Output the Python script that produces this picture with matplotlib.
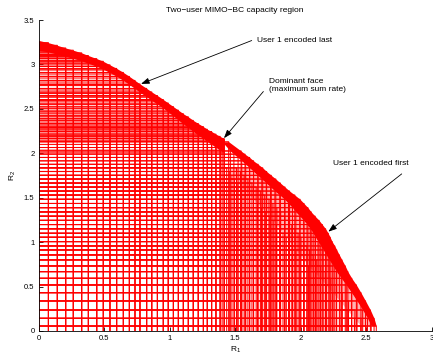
import matplotlib
matplotlib.use("Agg")
import matplotlib.pyplot as plt
from matplotlib.collections import LineCollection

plt.rcParams["font.family"] = ["Liberation Sans", "DejaVu Sans"]
plt.rcParams["mathtext.fontset"] = "custom"
plt.rcParams["mathtext.rm"] = "Liberation Sans"
plt.rcParams["mathtext.it"] = "Liberation Sans:italic"

RED = (1.0, 0.0, 0.0)

# --- user 1 encoded last: one column of corners per R1 level ---
last_r1 = [0.0, 0.074, 0.142, 0.206, 0.264, 0.328, 0.379, 0.443, 0.493, 0.544,
           0.595, 0.646, 0.692, 0.735, 0.773, 0.824, 0.863, 0.906, 0.951, 0.989,
           1.028, 1.066, 1.104, 1.142, 1.180, 1.218, 1.257, 1.287, 1.320, 1.353,
           1.385, 1.416]
last_r2_top = [3.27, 3.245, 3.215, 3.185, 3.16, 3.13, 3.10, 3.065, 3.035, 2.995,
               2.955, 2.91, 2.865, 2.82, 2.78, 2.73, 2.69, 2.65, 2.605, 2.565,
               2.525, 2.485, 2.445, 2.41, 2.37, 2.335, 2.30, 2.27, 2.245, 2.215,
               2.19, 2.165]
last_r2_mid = [3.252, 3.227, 3.197, 3.167, 3.142, 3.112, 3.082, 3.047, 3.017, 2.977,
               2.937, 2.892, 2.847, 2.802, 2.762, 2.712, 2.672, 2.632, 2.587, 2.547,
               2.507, 2.467, 2.427, 2.392, 2.352, 2.317, 2.282, 2.252, 2.227, 2.197,
               2.172, 2.147]
last_r2_low = [3.16, 3.14, 3.115, 3.09, 3.068, 3.04, 3.013, 2.978, 2.947, 2.907,
               2.866, 2.82, 2.774, 2.728, 2.687, 2.636, 2.595, 2.554, 2.508, 2.465,
               2.42, 2.375, 2.33, 2.29, 2.245, 2.205, 2.165, 2.13, 2.10, 2.065,
               2.035, 2.005]

# --- user 1 encoded first: one row of corners per R2 level ---
first_r2 = [0.056, 0.143, 0.236, 0.338, 0.431, 0.518, 0.593, 0.668, 0.732, 0.800,
            0.856, 0.912, 0.957, 1.006, 1.055, 1.100, 1.150, 1.198, 1.245, 1.292,
            1.340, 1.388, 1.435, 1.482, 1.530, 1.575, 1.620, 1.665, 1.710, 1.752,
            1.795, 1.836, 1.876, 1.915, 1.953, 1.990, 2.026, 2.130]
first_r1_outer = [2.577, 2.56, 2.532, 2.495, 2.46, 2.425, 2.39, 2.36, 2.34, 2.315,
                  2.295, 2.275, 2.26, 2.24, 2.225, 2.21, 2.19, 2.165, 2.14, 2.11,
                  2.08, 2.055, 2.025, 1.995, 1.955, 1.915, 1.88, 1.845, 1.81, 1.775,
                  1.74, 1.71, 1.675, 1.64, 1.61, 1.575, 1.545, 1.45]
first_r1_mid1 = [2.538, 2.51, 2.473, 2.43, 2.388, 2.348, 2.31, 2.273, 2.247, 2.218,
                 2.195, 2.172, 2.153, 2.132, 2.113, 2.095, 2.073, 2.048, 2.023, 1.993,
                 1.963, 1.937, 1.907, 1.877, 1.84, 1.803, 1.77, 1.737, 1.703, 1.672,
                 1.64, 1.61, 1.58, 1.55, 1.522, 1.49, 1.463, 1.40]
# deeper corners of the fan, only on the lower 32 rows
first_r1_mid2 = [2.499, 2.46, 2.414, 2.365, 2.317, 2.272, 2.23, 2.187, 2.153, 2.122,
                 2.095, 2.068, 2.047, 2.023, 2.002, 1.98, 1.957, 1.932, 1.907, 1.877,
                 1.847, 1.818, 1.788, 1.758, 1.725, 1.692, 1.66, 1.628, 1.597, 1.568,
                 1.54, 1.51]
first_r1_inner = [2.46, 2.41, 2.355, 2.30, 2.245, 2.195, 2.15, 2.10, 2.06, 2.025,
                  1.995, 1.965, 1.94, 1.915, 1.89, 1.865, 1.84, 1.815, 1.79, 1.76,
                  1.73, 1.70, 1.67, 1.64, 1.61, 1.58, 1.55, 1.52, 1.495, 1.475,
                  1.455, 1.435]

x_ticks = [0, 0.5, 1, 1.5, 2, 2.5, 3]
x_tick_labels = ["0", "0.5", "1", "1.5", "2", "2.5", "3"]
y_ticks = [0, 0.5, 1, 1.5, 2, 2.5, 3, 3.5]
y_tick_labels = ["0", "0.5", "1", "1.5", "2", "2.5", "3", "3.5"]


def rect_paths(r1s, r2s):
    # achievable region of one corner point: lines (0,R2)-(R1,R2)-(R1,0)
    return [[(0, b), (a, b), (a, 0)] for a, b in zip(r1s, r2s)]


paths = []
for r2s in (last_r2_top, last_r2_mid, last_r2_low):
    paths += rect_paths(last_r1, r2s)
for r1s in (first_r1_outer, first_r1_mid1, first_r1_mid2, first_r1_inner):
    paths += rect_paths(r1s, first_r2[:len(r1s)])

fig = plt.figure(figsize=(4.33, 3.54), dpi=100)
ax = fig.add_axes([0.0894, 0.065, 0.9076, 0.8785])

# densely packed corners near the boundary merge into solid red
n_fan = len(first_r1_inner)
ax.fill_between(last_r1, last_r2_low, last_r2_top, color=RED, lw=0)
ax.fill_betweenx(first_r2, first_r1_mid1, first_r1_outer, color=RED, lw=0)
ax.fill_betweenx(first_r2[:n_fan], first_r1_inner, first_r1_mid1[:n_fan],
                 color=RED, alpha=0.3, lw=0)
rects = LineCollection(paths, colors=[RED], linewidths=0.75)
rects.set_snap(False)
ax.add_collection(rects)

ax.set_xlim(0, 3)
ax.set_ylim(0, 3.5)
ax.set_xticks(x_ticks)
ax.set_xticklabels(x_tick_labels)
ax.set_yticks(y_ticks)
ax.set_yticklabels(y_tick_labels)
ax.tick_params(direction="in", length=3, width=0.6, labelsize=5.5, pad=3)
for side in ("top", "right"):
    ax.spines[side].set_visible(False)
for side in ("left", "bottom"):
    ax.spines[side].set_linewidth(0.6)

ax.set_xlabel("R$_1$", fontsize=6, labelpad=2)
ax.set_ylabel("R$_2$", fontsize=6, labelpad=4)
ax.set_title("Two\u2212user MIMO\u2212BC capacity region", fontsize=6, pad=6)

arrow = dict(arrowstyle="-|>,head_length=0.5,head_width=0.18", color="k",
             lw=0.6, shrinkA=0, shrinkB=0)
ax.annotate("", xy=(0.781, 2.781), xytext=(1.626, 3.269), arrowprops=arrow)
ax.text(1.664, 3.266, "User 1 encoded last", fontsize=6, va="center")
ax.annotate("", xy=(1.414, 2.170), xytext=(1.715, 2.695), arrowprops=arrow)
ax.text(1.758, 2.761, "Dominant face\n(maximum sum rate)", fontsize=6,
        va="center", linespacing=1.1)
ax.annotate("", xy=(2.211, 1.118), xytext=(2.771, 1.768), arrowprops=arrow)
ax.text(2.249, 1.880, "User 1 encoded first", fontsize=6, va="center")

fig.savefig("out.png", dpi=100)
